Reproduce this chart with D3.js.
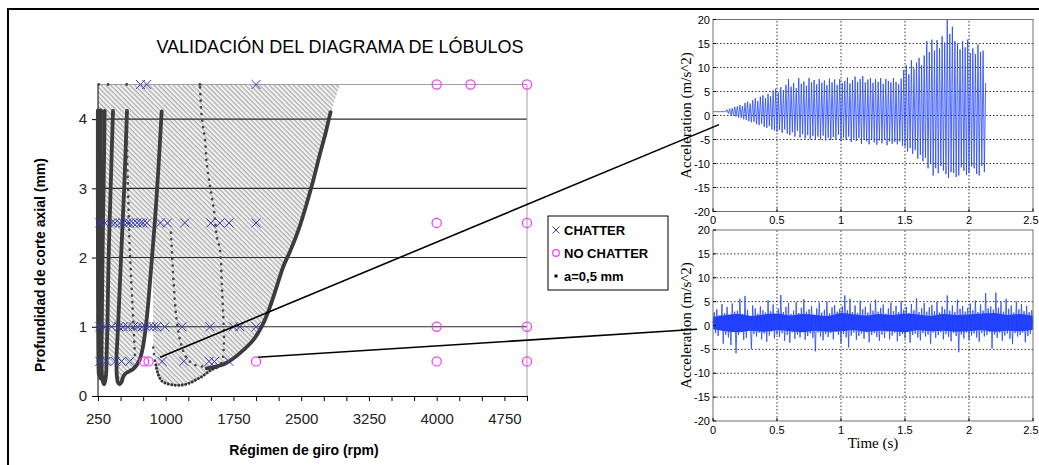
<!DOCTYPE html>
<html><head><meta charset="utf-8">
<script src="https://cdn.jsdelivr.net/npm/d3@7"></script>
<style>body{margin:0;background:#fff}svg{display:block}</style>
</head><body>
<svg id="c" width="1039" height="465"></svg>
<script>
// ---------------- DATA ----------------
const title = "VALIDACIÓN DEL DIAGRAMA DE LÓBULOS";
const xLabel = "Régimen de giro (rpm)";
const yLabel = "Profundidad de corte axial (mm)";
const xTickLabels = [250, 1000, 1750, 2500, 3250, 4000, 4750];
const yTickLabels = [0, 1, 2, 3, 4];
const gridDepths = [1, 2, 3, 4];
const legendItems = ["CHATTER", "NO CHATTER", "a=0,5 mm"];

// experimental points [rpm, depth mm]
const chatter = [
  [720,4.5],[790,4.5],[2000,4.5],
  [270,2.5],[330,2.5],[400,2.5],[440,2.5],[490,2.5],[530,2.5],[570,2.5],[600,2.5],[640,2.5],[680,2.5],[720,2.5],[750,2.5],[790,2.5],[940,2.5],[1020,2.5],[1210,2.5],[1500,2.5],[1600,2.5],[1700,2.5],[2000,2.5],
  [270,1],[330,1],[400,1],[480,1],[530,1],[580,1],[640,1],[690,1],[740,1],[780,1],[820,1],[860,1],[900,1],[990,1],[1180,1],[1490,1],[1750,1],[1820,1],[2000,1],
  [270,0.5],[340,0.5],[440,0.5],[510,0.5],[600,0.5],[960,0.5],[1200,0.5],[1480,0.5],[1540,0.5],[1700,0.5]
];
const noChatter = [[760,0.5],[810,0.5],[2000,0.5],[4000,0.5],[5000,0.5],[4000,1],[5000,1],[4000,2.5],[5000,2.5],[4000,4.5],[4375,4.5],[5000,4.5]];

// stability lobes "a=0,5 mm" [rpm, depth]
const lobeA = [[252,4.12],[252,3.0],[253,2.0],[255,1.0],[258,0.5],[262,0.32]];
const lobeB = [[280,4.12],[276,3.0],[272,2.0],[268,1.0],[266,0.5],[270,0.3],[280,0.26]];
const lobeC = [[324,4.12],[312,3.0],[300,2.0],[292,1.0],[289,0.5],[296,0.27],[308,0.19],[318,0.17],[330,0.22],[340,0.32],[346,0.6],[354,1.0],[368,2.0],[390,3.0],[416,4.12]];
const lobeD = [[571,4.12],[540,3.0],[505,2.0],[472,1.0],[455,0.55],[458,0.3],[470,0.2],[490,0.17],[510,0.2],[530,0.28],[560,0.33],[600,0.36],[640,0.39],[680,0.45],[710,0.52],[740,0.66],[770,0.9],[800,1.25],[837,1.83],[881,2.55],[918,3.27],[955,4.11]];
const lobeRright = [[1453,0.40],[1509,0.41],[1600,0.44],[1675,0.48],[1822,0.62],[1970,0.81],[2080,1.05],[2155,1.29],[2229,1.58],[2302,1.87],[2380,2.1],[2470,2.4],[2561,2.78],[2640,3.15],[2708,3.5],[2770,3.8],[2825,4.1]];
const lobeQbottom = [[890,0.45],[917,0.31],[955,0.22],[1010,0.18],[1084,0.16],[1135,0.155],[1194,0.16],[1269,0.19],[1343,0.24],[1400,0.28],[1453,0.33],[1509,0.38],[1564,0.41]];
const sparseF = [[571,4.12],[574,3.4],[585,2.88],[596,2.31],[612,1.83],[630,1.35],[649,0.86],[660,0.57]];
const sparseQleft = [[862,0.70],[875,0.55],[890,0.45]];
const sparseQright = [[1564,0.41],[1601,0.45],[1630,0.53],[1642,0.7],[1645,0.89],[1637,1.15],[1620,1.63],[1601,2.11],[1564,2.31],[1546,2.55],[1527,2.74],[1490,3.03],[1454,3.36],[1435,3.70],[1398,4.04],[1379,4.49]];
const sparseRleft = [[1058,2.36],[1120,1.10],[1176,0.72],[1231,0.55],[1322,0.45],[1453,0.42]];
const topDots = [[258,4.5],[362,4.5],[568,4.5],[1379,4.5]];
// narrow stable channel between the leftmost lobes
const stableChannel = [[302,4.1],[294,3.0],[286,2.0],[280,1.0],[278,0.45]];

// unstable (hatched) zone boundary [rpm, depth]
const unstableZone = [[250,4.5],[2930,4.5],[2825,4.1],[2708,3.5],[2561,2.78],[2380,2.1],[2229,1.58],[2080,1.05],[1970,0.81],[1822,0.62],[1675,0.48],[1564,0.41],[1509,0.38],[1453,0.33],[1343,0.24],[1269,0.19],[1194,0.16],[1135,0.155],[1084,0.16],[1010,0.18],[955,0.22],[917,0.31],[890,0.45],[862,0.70],[860,1.3],[855,1.9],[837,1.83],[800,1.25],[770,0.9],[740,0.66],[710,0.52],[680,0.45],[640,0.39],[600,0.36],[560,0.33],[530,0.28],[510,0.2],[490,0.17],[470,0.2],[458,0.3],[455,0.55],[400,0.45],[346,0.45],[340,0.32],[330,0.22],[318,0.17],[308,0.19],[296,0.27],[289,0.5],[270,0.3],[258,0.3],[250,0.3]];

// acceleration records (m/s^2)
const timeTicks = [0, 0.5, 1, 1.5, 2, 2.5];
const accTicks = [-20, -15, -10, -5, 0, 5, 10, 15, 20];
const topDt = 0.01;
const topSignal = [0.8,0.8,0.8,0.8,0.8,0.8,0.8,0.8,0.8,0.8,0.8,
 1.2,0.4,1.4,0.1,1.5,0.0,1.8,-0.2,1.9,-0.4,
 2.2,-0.5,2.0,-0.8,2.6,-0.9,2.9,-1.2,2.5,-1.4,
 3.2,-1.3,3.6,-1.8,3.0,-2.0,3.9,-1.7,4.2,-2.4,
 3.6,-2.6,4.5,-2.2,4.0,-2.9,5.2,-3.1,5.6,-3.4,
 4.8,-3.0,5.9,-3.6,5.3,-2.9,6.4,-3.8,7.6,-4.1,
 6.0,-3.5,6.8,-4.4,5.7,-3.2,7.8,-4.6,6.6,-3.9,
 7.1,-4.8,6.2,-4.1,7.8,-5.0,6.9,-4.3,7.4,-5.1,
 6.5,-4.4,7.6,-5.0,6.8,-4.2,7.3,-5.2,6.3,-4.6,
 7.7,-5.1,6.9,-4.5,7.5,-5.0,6.4,-4.0,7.6,-5.3,
 6.8,-4.6,7.2,-5.0,7.9,-4.4,6.7,-5.5,7.4,-4.8,
 8.1,-5.3,7.0,-4.7,7.6,-5.9,8.2,-5.0,6.9,-5.4,
 7.5,-6.0,7.8,-4.9,6.8,-5.6,7.6,-6.1,7.0,-5.2,
 7.8,-5.8,6.6,-5.0,7.6,-6.2,7.2,-5.4,6.9,-5.9,
 7.8,-5.5,7.0,-6.0,6.5,-5.4,7.7,-6.3,9.5,-6.5,
 10.5,-7.5,8.6,-6.8,11.5,-8.0,9.8,-7.2,11.0,-9.0,
 12.0,-8.2,10.5,-9.5,12.5,-8.8,15.5,-11.0,13.2,-10.0,
 15.8,-12.5,13.5,-11.0,15.7,-12.0,14.0,-10.5,16.5,-11.5,
 15.2,-12.2,20.0,-13.0,17.0,-11.8,18.5,-12.0,15.5,-12.8,
 15.0,-12.5,13.8,-10.8,15.5,-11.5,14.2,-12.4,15.8,-12.0,
 13.0,-10.6,14.0,-11.0,12.8,-12.2,14.8,-12.5,13.2,-10.5,
 13.5,-11.8,6.8];
const bottomDt = 0.01;
const bottomSignal = [
 0.5,2.8,-1.6,3.4,-2.2,2.1,-1.0,4.5,-3.8,2.6,
 -1.9,3.9,-2.5,1.8,-4.1,4.6,-1.2,2.9,-5.8,3.1,
 -2.0,5.6,-1.4,2.4,-3.0,6.2,-2.6,3.3,-1.1,2.0,
 -4.9,4.2,-1.8,3.6,-2.3,2.5,-1.5,4.0,-2.9,3.2,
 -1.7,2.7,-3.4,5.3,-2.1,3.0,-1.3,4.4,-2.7,2.2,
 -1.9,3.5,-2.4,6.4,-1.6,2.8,-3.2,3.9,-2.0,4.7,
 -3.6,2.4,-1.4,3.1,-2.8,4.9,-1.9,2.6,-2.5,3.7,
 -1.2,5.5,-3.0,2.9,-2.2,3.4,-1.7,4.1,-2.6,2.3,
 -5.4,3.6,-1.5,4.8,-2.3,2.7,-3.1,3.3,-1.8,5.0,
 -2.4,2.5,-1.6,3.8,-2.9,4.3,-1.3,2.9,-2.0,3.5,
 -3.7,4.0,-1.8,6.3,-2.5,3.2,-4.6,5.6,-2.1,2.8,
 -1.5,4.2,-3.0,2.6,-2.2,5.2,-1.7,3.4,-2.8,3.9,
 -1.4,2.7,-3.5,4.6,-2.0,3.1,-1.6,5.4,-2.4,2.9,
 -3.2,3.7,-1.9,4.4,-2.6,2.5,-1.3,3.6,-2.9,4.8,
 -2.1,3.0,-1.5,4.1,-3.3,2.8,-2.2,5.1,-1.8,3.3,
 -2.7,3.9,-1.4,2.6,-3.6,4.5,-2.0,3.2,-1.7,5.7,
 -2.5,2.8,-3.1,3.6,-1.6,4.7,-2.3,2.9,-1.9,3.8,
 -3.8,4.3,-1.5,3.0,-2.6,5.0,-2.0,2.7,-1.4,4.0,
 -2.9,3.4,-1.8,6.3,-2.4,3.1,-3.3,4.2,-1.6,2.8,
 -2.2,5.4,-5.6,3.5,-1.9,4.1,-2.7,2.9,-1.5,3.7,
 -3.0,4.6,-2.1,3.2,-1.7,5.2,-2.5,2.8,-3.4,4.4,
 -1.6,3.1,-2.3,6.8,-2.0,3.6,-1.4,4.0,-4.8,3.3,
 -1.9,6.9,-2.6,3.7,-1.5,4.9,-3.2,2.9,-2.1,5.6,
 -1.7,3.5,-2.8,4.2,-3.9,2.7,-1.6,5.0,-2.3,3.4,
 -2.0,4.5,-1.5,3.0,-3.5,4.1,-2.2,2.8,-1.8,3.2,
 0.4];
// dense noise core of the stable record, every 0.1 s
const coreDt = 0.1;
const coreHigh = [1.8,2.2,2.4,2.0,2.3,2.5,2.1,2.4,2.2,2.0,2.6,2.3,2.1,2.4,2.2,2.5,2.3,2.0,2.4,2.2,2.3,2.5,2.6,2.2,2.4,2.0];
const coreLow = [-0.8,-1.2,-1.4,-1.1,-1.3,-1.0,-1.2,-1.4,-1.1,-1.3,-1.2,-1.0,-1.3,-1.1,-1.2,-1.4,-1.0,-1.2,-1.1,-1.3,-1.2,-1.0,-1.3,-1.1,-1.2,-0.9];

// links from test points to their records: [rpm, depth] -> [time, acc]
const links = [
  {from:[937,0.56], to:[0.047,-1.9], panel:0},
  {from:[2021,0.56], to:[-0.125,-0.8], panel:1}
];

// ---------------- DRAW ----------------
const svg = d3.select("#c");
const SANS = "'Liberation Sans', Arial, sans-serif";
const SERIF = "'Liberation Serif', 'Times New Roman', serif";

const defs = svg.append("defs");
const pat = defs.append("pattern").attr("id","hatch").attr("patternUnits","userSpaceOnUse")
  .attr("width",3.4).attr("height",3.4).attr("patternTransform","rotate(-45)");
pat.append("rect").attr("width",3.4).attr("height",3.4).attr("fill","#f3f3f3");
pat.append("line").attr("x1",1).attr("y1",0).attr("x2",1).attr("y2",3.4).attr("stroke","#9a9a9a").attr("stroke-width",1);

// outer frame
svg.append("path").attr("d","M8,465V9H1039").attr("fill","none").attr("stroke","#000").attr("stroke-width",2);

// main chart scales
const x = d3.scaleLinear().domain([250,5000]).range([98,527]);
const y = d3.scaleLinear().domain([0,4.5]).range([396,84.5]);
const g = svg.append("g");

// hatched unstable zone
g.append("path").attr("d", d3.line().x(d=>x(d[0])).y(d=>y(d[1])).curve(d3.curveLinearClosed)(unstableZone))
  .attr("fill","url(#hatch)");

// gridlines
g.selectAll(".grid").data(gridDepths).join("line")
  .attr("x1",x(250)).attr("x2",x(5000)).attr("y1",d=>y(d)).attr("y2",d=>y(d))
  .attr("stroke","#2a2a2a").attr("stroke-width",1.1);
// top/right border
g.append("path").attr("d",`M${x(250)},${y(4.5)}H${x(5000)}V${y(0)}`).attr("fill","none").attr("stroke","#a0a0a0").attr("stroke-width",1);

// axes
const xAxis = d3.axisBottom(x).tickValues(d3.range(250,5001,250))
  .tickFormat(d => xTickLabels.includes(d) ? String(d) : "").tickSize(5).tickPadding(12).tickSizeOuter(0);
const gx = g.append("g").attr("transform",`translate(0,${y(0)})`).call(xAxis);
gx.select(".domain").attr("stroke","#000");
gx.selectAll("text").attr("font-family",SANS).attr("font-size",15).attr("fill","#222");
const yAxis = d3.axisLeft(y).tickValues(yTickLabels).tickFormat(d=>String(d)).tickSize(6).tickPadding(5).tickSizeOuter(0);
const gy = g.append("g").attr("transform",`translate(${x(250)},0)`).call(yAxis);
gy.select(".domain").attr("d",`M0,${y(0)}V${y(4.5)}`).attr("stroke","#000");
gy.selectAll("text").attr("font-family",SANS).attr("font-size",15).attr("fill","#222");

// lobes
const lobeLine = d3.line().x(d=>x(d[0])).y(d=>y(d[1])).curve(d3.curveCatmullRom.alpha(0.5));
g.append("path").attr("d",lobeLine(stableChannel)).attr("fill","none").attr("stroke","#fff").attr("stroke-width",1.6);
[lobeA, lobeB, lobeC, lobeD, lobeRright].forEach((L,i) => {
  g.append("path").attr("d",lobeLine(L)).attr("fill","none").attr("stroke","#3c3c3c")
    .attr("stroke-width", i<2 ? 4.5 : 3.8).attr("stroke-linecap","round").attr("stroke-linejoin","round");
});
g.append("path").attr("d",lobeLine(lobeQbottom)).attr("fill","none").attr("stroke","#333")
  .attr("stroke-width",3).attr("stroke-linecap","round").attr("stroke-dasharray","0.1,3.4");
[sparseF, sparseQleft, sparseQright, sparseRleft].forEach(L => {
  g.append("path").attr("d",lobeLine(L)).attr("fill","none").attr("stroke","#444")
    .attr("stroke-width",2.6).attr("stroke-linecap","round").attr("stroke-dasharray","0.1,6.5");
});
g.selectAll(".td").data(topDots).join("circle").attr("cx",d=>x(d[0])).attr("cy",d=>y(d[1])).attr("r",1.4).attr("fill","#444");

// markers
const cross = (sel, cx, cy, s, col) => sel.append("path")
  .attr("d",`M${cx-s},${cy-s}L${cx+s},${cy+s}M${cx-s},${cy+s}L${cx+s},${cy-s}`)
  .attr("stroke",col).attr("stroke-width",1).attr("fill","none");
const CH = "#3b3bb0", NC = "#ff33ff";
chatter.forEach(d => cross(g, x(d[0]), y(d[1]), 4.5, CH));
g.selectAll(".nc").data(noChatter).join("circle").attr("cx",d=>x(d[0])).attr("cy",d=>y(d[1]))
  .attr("r",4.6).attr("fill","none").attr("stroke",NC).attr("stroke-width",1.2);

// titles
svg.append("text").attr("x",340).attr("y",53).attr("text-anchor","middle").attr("font-family",SANS)
  .attr("font-size",18).text(title);
svg.append("text").attr("x",304).attr("y",455).attr("text-anchor","middle").attr("font-family",SANS)
  .attr("font-size",14).attr("font-weight","bold").text(xLabel);
svg.append("text").attr("transform","translate(45,265) rotate(-90)").attr("text-anchor","middle").attr("font-family",SANS)
  .attr("font-size",14).attr("font-weight","bold").text(yLabel);

// legend
const lg = svg.append("g");
lg.append("rect").attr("x",548).attr("y",216).attr("width",120).attr("height",74).attr("fill","#fff").attr("stroke","#000").attr("stroke-width",1);
legendItems.forEach((t,i) => {
  const cy = 230 + i*23;
  if (i===0) cross(lg, 556, cy, 3.5, CH);
  if (i===1) lg.append("circle").attr("cx",556).attr("cy",cy).attr("r",3.3).attr("fill","none").attr("stroke",NC).attr("stroke-width",1.2);
  if (i===2) lg.append("rect").attr("x",554.5).attr("y",cy-1.5).attr("width",3).attr("height",3).attr("fill","#000");
  lg.append("text").attr("x",564).attr("y",cy+4.5).attr("font-family",SANS).attr("font-size",13)
    .attr("font-weight","bold").text(t);
});

// ---------- right panels ----------
const xt = d3.scaleLinear().domain([0,2.5]).range([713,1033]);
const panels = [
  {y: d3.scaleLinear().domain([-20,20]).range([211.5,19.5]), data: topSignal, dt: topDt, core:false},
  {y: d3.scaleLinear().domain([-20,20]).range([421,230]), data: bottomSignal, dt: bottomDt, core:true}
];
panels.forEach(p => {
  const pg = svg.append("g");
  const y0 = p.y(-20), y1 = p.y(20);
  pg.append("rect").attr("x",xt(0)).attr("y",y1).attr("width",xt(2.5)-xt(0)).attr("height",y0-y1).attr("fill","#fff");
  timeTicks.slice(1,-1).forEach(t => pg.append("line").attr("x1",xt(t)).attr("x2",xt(t)).attr("y1",y0).attr("y2",y1)
    .attr("stroke","#000").attr("stroke-width",0.8).attr("stroke-dasharray","1.5,2"));
  accTicks.slice(1,-1).forEach(a => pg.append("line").attr("x1",xt(0)).attr("x2",xt(2.5)).attr("y1",p.y(a)).attr("y2",p.y(a))
    .attr("stroke","#000").attr("stroke-width",0.8).attr("stroke-dasharray","1.5,2"));
  if (p.core) {
    pg.append("path").attr("d", d3.area().x((d,i)=>xt(i*coreDt)).y0((d,i)=>p.y(coreLow[i])).y1(d=>p.y(d))
      .curve(d3.curveCatmullRom)(coreHigh)).attr("fill","#1f3cff");
  }
  pg.append("path").attr("d", d3.line().x((d,i)=>xt(i*p.dt)).y(d=>p.y(d))(p.data))
    .attr("fill","none").attr("stroke","#2446ff").attr("stroke-width",0.8);
  pg.append("rect").attr("x",xt(0)).attr("y",y1).attr("width",xt(2.5)-xt(0)).attr("height",y0-y1)
    .attr("fill","none").attr("stroke","#707070").attr("stroke-width",1);
  // ticks
  timeTicks.forEach((t,i) => {
    pg.append("line").attr("x1",xt(t)).attr("x2",xt(t)).attr("y1",y0).attr("y2",y0-3).attr("stroke","#000");
    const last = i === timeTicks.length-1;
    pg.append("text").attr("x", last ? 1038.5 : xt(t)).attr("y",y0+12.5).attr("text-anchor", last ? "end" : "middle")
      .attr("font-family",SANS).attr("font-size",11).text(String(t));
  });
  accTicks.forEach(a => {
    pg.append("line").attr("x1",xt(0)).attr("x2",xt(0)+3).attr("y1",p.y(a)).attr("y2",p.y(a)).attr("stroke","#000");
    pg.append("text").attr("x",xt(0)-3).attr("y",p.y(a)+4).attr("text-anchor","end").attr("font-family",SANS)
      .attr("font-size",11).text(String(a));
  });
  pg.append("text").attr("transform",`translate(691,${(y0+y1)/2}) rotate(-90)`).attr("text-anchor","middle")
    .attr("font-family",SERIF).attr("font-size",15).text("Acceleration (m/s^2)");
  if (p.core) pg.append("text").attr("x",873).attr("y",448).attr("text-anchor","middle")
    .attr("font-family",SERIF).attr("font-size",15).text("Time (s)");
});

// link lines
links.forEach(l => {
  const p = panels[l.panel];
  svg.append("line").attr("x1",x(l.from[0])).attr("y1",y(l.from[1])).attr("x2",xt(l.to[0])).attr("y2",p.y(l.to[1]))
    .attr("stroke","#000").attr("stroke-width",1.6);
});
</script></body></html>
